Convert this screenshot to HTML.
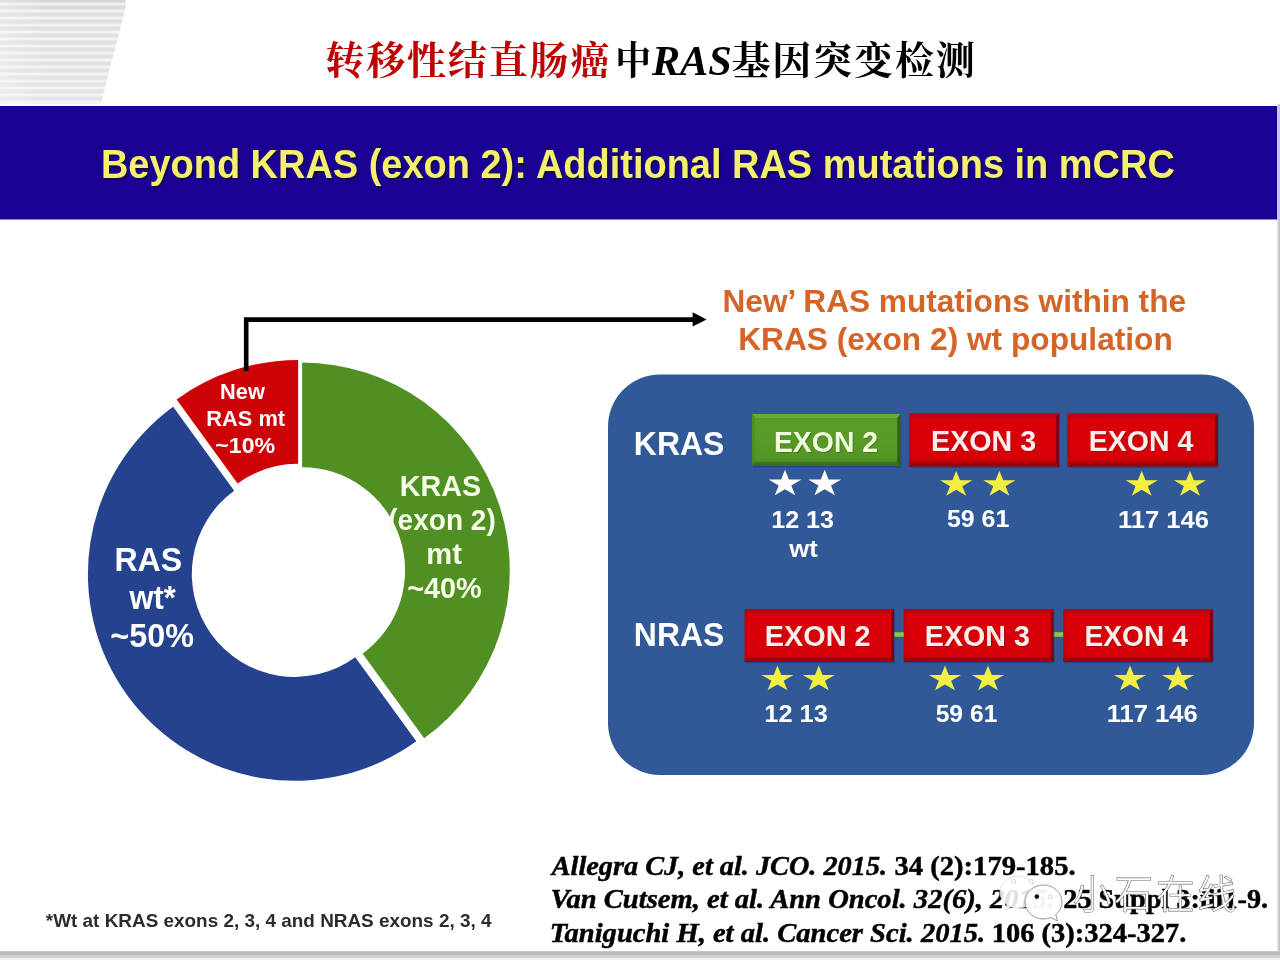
<!DOCTYPE html>
<html lang="zh">
<head>
<meta charset="utf-8">
<title>转移性结直肠癌中RAS基因突变检测</title>
<style>
  html, body { margin: 0; padding: 0; background: #ffffff; }
  body { width: 1280px; height: 960px; overflow: hidden; position: relative; }
  svg { position: absolute; left: 0; top: 0; display: block; }
  .sans { font-family: "Liberation Sans", sans-serif; font-weight: bold; }
  .serif { font-family: "Liberation Serif", "Noto Serif CJK SC", serif; font-weight: bold; }
  .cjk { font-family: "Liberation Serif", "Noto Serif CJK SC", serif; font-weight: 700; }
  .wm { font-family: "Liberation Sans", "Noto Sans CJK SC", sans-serif; font-weight: 300; }
</style>
</head>
<body>
<svg width="1280" height="960" viewBox="0 0 1280 960">
  <defs>
    <linearGradient id="stripeFade" x1="0" y1="0" x2="0" y2="1">
      <stop offset="0" stop-color="#d6d6d6"/>
      <stop offset="0.12" stop-color="#dedede"/>
      <stop offset="1" stop-color="#e4e4ea"/>
    </linearGradient>
    <linearGradient id="leftFade" x1="0" y1="0" x2="1" y2="0">
      <stop offset="0" stop-color="#ffffff" stop-opacity="0.28"/>
      <stop offset="1" stop-color="#ffffff" stop-opacity="0"/>
    </linearGradient>
    <pattern id="stripes" x="0" y="2.5" width="8" height="7" patternUnits="userSpaceOnUse">
      <rect x="0" y="0" width="8" height="3" fill="#ffffff" fill-opacity="0.6"/>
    </pattern>
    <linearGradient id="shadowB" x1="0" y1="0" x2="0" y2="1">
      <stop offset="0" stop-color="#e6e6e6"/>
      <stop offset="0.08" stop-color="#bababa"/>
      <stop offset="0.42" stop-color="#bebebe"/>
      <stop offset="0.52" stop-color="#cecece"/>
      <stop offset="0.72" stop-color="#d4d4d4"/>
      <stop offset="0.8" stop-color="#efefef"/>
      <stop offset="1" stop-color="#f5f5f5"/>
    </linearGradient>
    <linearGradient id="shadowR" x1="0" y1="0" x2="1" y2="0">
      <stop offset="0" stop-color="#ffffff"/>
      <stop offset="0.5" stop-color="#d4d4d4"/>
      <stop offset="1" stop-color="#bdbdbd"/>
    </linearGradient>
    <linearGradient id="redBox" x1="0" y1="0" x2="0" y2="1">
      <stop offset="0" stop-color="#c40008"/>
      <stop offset="0.12" stop-color="#da0008"/>
      <stop offset="0.85" stop-color="#d60008"/>
      <stop offset="1" stop-color="#a80008"/>
    </linearGradient>
    <linearGradient id="greenBox" x1="0" y1="0" x2="0" y2="1">
      <stop offset="0" stop-color="#4a8a22"/>
      <stop offset="0.12" stop-color="#5a9e28"/>
      <stop offset="0.85" stop-color="#549624"/>
      <stop offset="1" stop-color="#3c741c"/>
    </linearGradient>
    <filter id="soft" x="-5%" y="-5%" width="110%" height="110%">
      <feGaussianBlur stdDeviation="0.6"/>
    </filter>
  </defs>

  <!-- page background -->
  <rect x="0" y="0" width="1280" height="960" fill="#ffffff"/>

  <!-- top-left grey striped decoration -->
  <g id="deco">
    <polygon points="0,0 125.5,0 125.5,8 101,103.5 0,103.5" fill="url(#stripeFade)"/>
    <polygon points="0,0 125.5,0 125.5,8 101,103.5 0,103.5" fill="url(#stripes)"/>
    <rect x="0" y="0" width="45" height="103.5" fill="url(#leftFade)"/>
  </g>

  <!-- slide drop shadows -->
  <rect x="1276.5" y="104" width="3.5" height="848" fill="url(#shadowR)"/>
  <rect x="0" y="951" width="1280" height="9" fill="url(#shadowB)"/>

  <!-- title -->
  <g id="title">
    <text x="325.4" y="74.2" class="cjk" font-size="39" fill="#c00000" textLength="284" lengthAdjust="spacing">转移性结直肠癌</text>
    <text x="615.2" y="74.2" class="cjk" font-size="39" fill="#000000" textLength="35.8" lengthAdjust="spacingAndGlyphs">中</text>
    <text x="651.9" y="74.9" class="serif" font-size="42.2" font-style="italic" fill="#000000">RAS</text>
    <text x="731.4" y="74.2" class="cjk" font-size="39" fill="#000000" textLength="243.4" lengthAdjust="spacing">基因突变检测</text>
  </g>

  <!-- banner -->
  <g id="banner">
    <rect x="0" y="106" width="1277" height="113.5" fill="#1a0093"/>
    <rect x="1277" y="106" width="3" height="115" fill="#c9c5f0"/>
    <text x="102.5" y="179.7" class="sans" font-size="40" fill="#120c40" textLength="1073.92" lengthAdjust="spacingAndGlyphs" fill-opacity="0.9">Beyond KRAS (exon 2): Additional RAS mutations in mCRC</text>
    <text x="100.9" y="178.1" class="sans" font-size="40" fill="#f5ef6e" textLength="1073.92" lengthAdjust="spacingAndGlyphs">Beyond KRAS (exon 2): Additional RAS mutations in mCRC</text>
  </g>

  <!-- donut chart -->
  <g id="donut">
    <path d="M302.1,362.6 A207.7,207.7 0 0 1 424.18,738.33 L362.64,653.63 A103,103 0 0 0 302.1,467.3 Z" fill="#508f21"/>
    <path d="M416.26,741.31 A206.8,206.8 0 0 1 173.15,406.7 L234.17,490.68 A103,103 0 0 0 355.25,657.34 Z" fill="#25428e"/>
    <path d="M176.61,399.49 A206.8,206.8 0 0 1 298.16,360 L298.16,463.8 A103,103 0 0 0 237.62,483.47 Z" fill="#cd0308"/>
    <text x="220.09" y="398.8" class="sans" font-size="22.7" fill="#ffffff" textLength="44.8" lengthAdjust="spacingAndGlyphs">New</text>
    <text x="206.29" y="426.4" class="sans" font-size="22.7" fill="#ffffff" textLength="78.77" lengthAdjust="spacingAndGlyphs">RAS mt</text>
    <text x="215.28" y="453.2" class="sans" font-size="22.7" fill="#ffffff" textLength="59.91" lengthAdjust="spacingAndGlyphs">~10%</text>
    <text x="114.43" y="571" class="sans" font-size="32.6" fill="#ffffff" textLength="67.84" lengthAdjust="spacingAndGlyphs">RAS</text>
    <text x="129.48" y="609" class="sans" font-size="32.6" fill="#ffffff" textLength="46.34" lengthAdjust="spacingAndGlyphs">wt*</text>
    <text x="110.36" y="647.3" class="sans" font-size="32.6" fill="#ffffff" textLength="83.56" lengthAdjust="spacingAndGlyphs">~50%</text>
    <text x="399.69" y="495.5" class="sans" font-size="28.6" fill="#f5fce8" textLength="81.41" lengthAdjust="spacingAndGlyphs">KRAS</text>
    <text x="388.29" y="530.4" class="sans" font-size="28.6" fill="#f5fce8" textLength="107.51" lengthAdjust="spacingAndGlyphs">(exon 2)</text>
    <text x="426.27" y="564.2" class="sans" font-size="28.6" fill="#f5fce8" textLength="35.56" lengthAdjust="spacingAndGlyphs">mt</text>
    <text x="407.22" y="598.3" class="sans" font-size="28.6" fill="#f5fce8" textLength="74.53" lengthAdjust="spacingAndGlyphs">~40%</text>
  </g>

  <!-- connector arrow -->
  <g id="arrow">
    <polyline points="246.2,371 246.2,319.6 694,319.6" fill="none" stroke="#000000" stroke-width="4.6" stroke-linejoin="miter"/>
    <polygon points="692.6,312.2 706.6,319.4 692.6,326.6" fill="#000000"/>
  </g>

  <!-- right heading -->
  <g id="heading">
    <text x="722.53" y="312.2" class="sans" font-size="31.4" fill="#d46428" textLength="463.5" lengthAdjust="spacingAndGlyphs">New’ RAS mutations within the</text>
    <text x="738.23" y="350.4" class="sans" font-size="31.4" fill="#d46428" textLength="434.57" lengthAdjust="spacingAndGlyphs">KRAS (exon 2) wt population</text>
  </g>

  <!-- panel -->
  <g id="panel">
    <rect x="608" y="374.6" width="646" height="400.4" rx="52" ry="52" fill="#315897"/>
    <rect x="890" y="632.2" width="176" height="4.6" fill="#8cc63f"/>
    <rect x="753" y="415.5" width="148.3" height="52" fill="#1d2f5e" fill-opacity="0.35" filter="url(#soft)"/>
    <rect x="752" y="414" width="148.3" height="52" fill="url(#greenBox)"/>
    <polygon points="752,414 900.3,414 897.3,418 755,418" fill="#7cc040" fill-opacity="0.6"/>
    <polygon points="752,466 900.3,466 897.3,462 755,462" fill="#356a1a" fill-opacity="0.6"/>
    <polygon points="900.3,414 900.3,466 897.3,462 897.3,418" fill="#234f14" fill-opacity="0.75"/>
    <polygon points="752,414 752,466 755,462 755,418" fill="#46861f" fill-opacity="0.5"/>
    <rect x="910" y="414.9" width="150" height="53" fill="#1d2f5e" fill-opacity="0.35" filter="url(#soft)"/>
    <rect x="909" y="413.4" width="150" height="53" fill="url(#redBox)"/>
    <polygon points="909,413.4 1059,413.4 1056,417.4 912,417.4" fill="#a8001a" fill-opacity="0.45"/>
    <polygon points="909,466.4 1059,466.4 1056,462.4 912,462.4" fill="#8f0006" fill-opacity="0.6"/>
    <polygon points="1059,413.4 1059,466.4 1056,462.4 1056,417.4" fill="#5c0014" fill-opacity="0.75"/>
    <polygon points="909,413.4 909,466.4 912,462.4 912,417.4" fill="#b00010" fill-opacity="0.5"/>
    <rect x="1068.3" y="414.9" width="150.5" height="53" fill="#1d2f5e" fill-opacity="0.35" filter="url(#soft)"/>
    <rect x="1067.3" y="413.4" width="150.5" height="53" fill="url(#redBox)"/>
    <polygon points="1067.3,413.4 1217.8,413.4 1214.8,417.4 1070.3,417.4" fill="#a8001a" fill-opacity="0.45"/>
    <polygon points="1067.3,466.4 1217.8,466.4 1214.8,462.4 1070.3,462.4" fill="#8f0006" fill-opacity="0.6"/>
    <polygon points="1217.8,413.4 1217.8,466.4 1214.8,462.4 1214.8,417.4" fill="#5c0014" fill-opacity="0.75"/>
    <polygon points="1067.3,413.4 1067.3,466.4 1070.3,462.4 1070.3,417.4" fill="#b00010" fill-opacity="0.5"/>
    <rect x="745.7" y="610.5" width="149.3" height="53" fill="#1d2f5e" fill-opacity="0.35" filter="url(#soft)"/>
    <rect x="744.7" y="609" width="149.3" height="53" fill="url(#redBox)"/>
    <polygon points="744.7,609 894,609 891,613 747.7,613" fill="#a8001a" fill-opacity="0.45"/>
    <polygon points="744.7,662 894,662 891,658 747.7,658" fill="#8f0006" fill-opacity="0.6"/>
    <polygon points="894,609 894,662 891,658 891,613" fill="#5c0014" fill-opacity="0.75"/>
    <polygon points="744.7,609 744.7,662 747.7,658 747.7,613" fill="#b00010" fill-opacity="0.5"/>
    <rect x="904.8" y="610.5" width="149.8" height="53" fill="#1d2f5e" fill-opacity="0.35" filter="url(#soft)"/>
    <rect x="903.8" y="609" width="149.8" height="53" fill="url(#redBox)"/>
    <polygon points="903.8,609 1053.6,609 1050.6,613 906.8,613" fill="#a8001a" fill-opacity="0.45"/>
    <polygon points="903.8,662 1053.6,662 1050.6,658 906.8,658" fill="#8f0006" fill-opacity="0.6"/>
    <polygon points="1053.6,609 1053.6,662 1050.6,658 1050.6,613" fill="#5c0014" fill-opacity="0.75"/>
    <polygon points="903.8,609 903.8,662 906.8,658 906.8,613" fill="#b00010" fill-opacity="0.5"/>
    <rect x="1064.3" y="610.5" width="149.5" height="53" fill="#1d2f5e" fill-opacity="0.35" filter="url(#soft)"/>
    <rect x="1063.3" y="609" width="149.5" height="53" fill="url(#redBox)"/>
    <polygon points="1063.3,609 1212.8,609 1209.8,613 1066.3,613" fill="#a8001a" fill-opacity="0.45"/>
    <polygon points="1063.3,662 1212.8,662 1209.8,658 1066.3,658" fill="#8f0006" fill-opacity="0.6"/>
    <polygon points="1212.8,609 1212.8,662 1209.8,658 1209.8,613" fill="#5c0014" fill-opacity="0.75"/>
    <polygon points="1063.3,609 1063.3,662 1066.3,658 1066.3,613" fill="#b00010" fill-opacity="0.5"/>
    <text x="774.71" y="452.8" class="sans" font-size="28.6" fill="#1c3a0a" textLength="104.2" lengthAdjust="spacingAndGlyphs" fill-opacity="0.35">EXON 2</text>
    <text x="773.91" y="451.8" class="sans" font-size="28.6" fill="#f1fbdd" textLength="104.2" lengthAdjust="spacingAndGlyphs">EXON 2</text>
    <text x="931.79" y="452.2" class="sans" font-size="28.6" fill="#4a0008" textLength="105.32" lengthAdjust="spacingAndGlyphs" fill-opacity="0.35">EXON 3</text>
    <text x="930.99" y="451.2" class="sans" font-size="28.6" fill="#fdeeee" textLength="105.32" lengthAdjust="spacingAndGlyphs">EXON 3</text>
    <text x="1089.61" y="452.2" class="sans" font-size="28.6" fill="#4a0008" textLength="104.62" lengthAdjust="spacingAndGlyphs" fill-opacity="0.35">EXON 4</text>
    <text x="1088.81" y="451.2" class="sans" font-size="28.6" fill="#fdeeee" textLength="104.62" lengthAdjust="spacingAndGlyphs">EXON 4</text>
    <text x="765.58" y="646.5" class="sans" font-size="28.6" fill="#4a0008" textLength="105.85" lengthAdjust="spacingAndGlyphs" fill-opacity="0.35">EXON 2</text>
    <text x="764.78" y="645.5" class="sans" font-size="28.6" fill="#fdeeee" textLength="105.85" lengthAdjust="spacingAndGlyphs">EXON 2</text>
    <text x="925.59" y="646.5" class="sans" font-size="28.6" fill="#4a0008" textLength="105.22" lengthAdjust="spacingAndGlyphs" fill-opacity="0.35">EXON 3</text>
    <text x="924.79" y="645.5" class="sans" font-size="28.6" fill="#fdeeee" textLength="105.22" lengthAdjust="spacingAndGlyphs">EXON 3</text>
    <text x="1085.33" y="646.5" class="sans" font-size="28.6" fill="#4a0008" textLength="103.4" lengthAdjust="spacingAndGlyphs" fill-opacity="0.35">EXON 4</text>
    <text x="1084.53" y="645.5" class="sans" font-size="28.6" fill="#fdeeee" textLength="103.4" lengthAdjust="spacingAndGlyphs">EXON 4</text>
    <text x="633.86" y="454.8" class="sans" font-size="33.3" fill="#ffffff" textLength="90.55" lengthAdjust="spacingAndGlyphs">KRAS</text>
    <text x="633.86" y="645.8" class="sans" font-size="33.3" fill="#ffffff" textLength="90.55" lengthAdjust="spacingAndGlyphs">NRAS</text>
    <polygon points="0,-14.15 3.9,-4.37 16.5,-4.37 6.3,1.67 10.2,11.45 0,5.41 -10.2,11.45 -6.3,1.67 -16.5,-4.37 -3.9,-4.37" transform="translate(785,483.8)" fill="#ffffff"/>
    <polygon points="0,-14.15 3.9,-4.37 16.5,-4.37 6.3,1.67 10.2,11.45 0,5.41 -10.2,11.45 -6.3,1.67 -16.5,-4.37 -3.9,-4.37" transform="translate(824.7,483.8)" fill="#ffffff"/>
    <polygon points="0,-14.15 3.9,-4.37 16.5,-4.37 6.3,1.67 10.2,11.45 0,5.41 -10.2,11.45 -6.3,1.67 -16.5,-4.37 -3.9,-4.37" transform="translate(956.2,484.6) scale(0.975)" fill="#f3ef42"/>
    <polygon points="0,-14.15 3.9,-4.37 16.5,-4.37 6.3,1.67 10.2,11.45 0,5.41 -10.2,11.45 -6.3,1.67 -16.5,-4.37 -3.9,-4.37" transform="translate(999.4,484.6) scale(0.975)" fill="#f3ef42"/>
    <polygon points="0,-14.15 3.9,-4.37 16.5,-4.37 6.3,1.67 10.2,11.45 0,5.41 -10.2,11.45 -6.3,1.67 -16.5,-4.37 -3.9,-4.37" transform="translate(1141.7,484.6) scale(0.975)" fill="#f3ef42"/>
    <polygon points="0,-14.15 3.9,-4.37 16.5,-4.37 6.3,1.67 10.2,11.45 0,5.41 -10.2,11.45 -6.3,1.67 -16.5,-4.37 -3.9,-4.37" transform="translate(1190,484.6) scale(0.975)" fill="#f3ef42"/>
    <polygon points="0,-14.15 3.9,-4.37 16.5,-4.37 6.3,1.67 10.2,11.45 0,5.41 -10.2,11.45 -6.3,1.67 -16.5,-4.37 -3.9,-4.37" transform="translate(777.5,679.2) scale(0.975)" fill="#f3ef42"/>
    <polygon points="0,-14.15 3.9,-4.37 16.5,-4.37 6.3,1.67 10.2,11.45 0,5.41 -10.2,11.45 -6.3,1.67 -16.5,-4.37 -3.9,-4.37" transform="translate(818.8,679.2) scale(0.975)" fill="#f3ef42"/>
    <polygon points="0,-14.15 3.9,-4.37 16.5,-4.37 6.3,1.67 10.2,11.45 0,5.41 -10.2,11.45 -6.3,1.67 -16.5,-4.37 -3.9,-4.37" transform="translate(945,679.2) scale(0.975)" fill="#f3ef42"/>
    <polygon points="0,-14.15 3.9,-4.37 16.5,-4.37 6.3,1.67 10.2,11.45 0,5.41 -10.2,11.45 -6.3,1.67 -16.5,-4.37 -3.9,-4.37" transform="translate(988,679.2) scale(0.975)" fill="#f3ef42"/>
    <polygon points="0,-14.15 3.9,-4.37 16.5,-4.37 6.3,1.67 10.2,11.45 0,5.41 -10.2,11.45 -6.3,1.67 -16.5,-4.37 -3.9,-4.37" transform="translate(1130,679.2) scale(0.975)" fill="#f3ef42"/>
    <polygon points="0,-14.15 3.9,-4.37 16.5,-4.37 6.3,1.67 10.2,11.45 0,5.41 -10.2,11.45 -6.3,1.67 -16.5,-4.37 -3.9,-4.37" transform="translate(1178,679.2) scale(0.975)" fill="#f3ef42"/>
    <text x="771.2" y="528.1" class="sans" font-size="24.6" fill="#ffffff" textLength="62.83" lengthAdjust="spacingAndGlyphs">12 13</text>
    <text x="789.37" y="557" class="sans" font-size="24.6" fill="#ffffff" textLength="28.47" lengthAdjust="spacingAndGlyphs">wt</text>
    <text x="946.95" y="527" class="sans" font-size="24.6" fill="#ffffff" textLength="62.44" lengthAdjust="spacingAndGlyphs">59 61</text>
    <text x="1117.97" y="528" class="sans" font-size="24.6" fill="#ffffff" textLength="91.07" lengthAdjust="spacingAndGlyphs">117 146</text>
    <text x="764.39" y="722" class="sans" font-size="24.6" fill="#ffffff" textLength="63.35" lengthAdjust="spacingAndGlyphs">12 13</text>
    <text x="935.66" y="722" class="sans" font-size="24.6" fill="#ffffff" textLength="61.72" lengthAdjust="spacingAndGlyphs">59 61</text>
    <text x="1106.77" y="722" class="sans" font-size="24.6" fill="#ffffff" textLength="90.97" lengthAdjust="spacingAndGlyphs">117 146</text>
  </g>

  <!-- footnote -->
  <g id="foot">
    <text x="45.83" y="927" class="sans" font-size="19" fill="#2c2c2c" textLength="445.63" lengthAdjust="spacingAndGlyphs">*Wt at KRAS exons 2, 3, 4 and NRAS exons 2, 3, 4</text>
  </g>

  <!-- references -->
  <g id="refs">
    <text x="551.75" y="874.6" class="serif" font-size="27" font-style="italic" fill="#000000" textLength="335.34" lengthAdjust="spacingAndGlyphs" stroke="#000000" stroke-width="0.45">Allegra CJ, et al. JCO. 2015.</text>
    <text x="894.52" y="874.6" class="serif" font-size="27" fill="#000000" textLength="181.06" lengthAdjust="spacingAndGlyphs" stroke="#000000" stroke-width="0.45">34 (2):179-185.</text>
    <text x="550.58" y="908.3" class="serif" font-size="27" font-style="italic" fill="#000000" textLength="503.74" lengthAdjust="spacingAndGlyphs" stroke="#000000" stroke-width="0.45">Van Cutsem, et al. Ann Oncol. 32(6), 2015.</text>
    <text x="1063.27" y="908.3" class="serif" font-size="27" fill="#000000" textLength="204.86" lengthAdjust="spacingAndGlyphs" stroke="#000000" stroke-width="0.45">25 Suppl 3:iii1-9.</text>
    <text x="549.65" y="942" class="serif" font-size="27" font-style="italic" fill="#000000" textLength="435.54" lengthAdjust="spacingAndGlyphs" stroke="#000000" stroke-width="0.45">Taniguchi H, et al. Cancer Sci. 2015.</text>
    <text x="991.8" y="942" class="serif" font-size="27" fill="#000000" textLength="194.45" lengthAdjust="spacingAndGlyphs" stroke="#000000" stroke-width="0.45">106 (3):324-327.</text>
  </g>

  <!-- watermark -->
  <g id="wm">
    <path d="M1018,876 C1028,876 1036,883 1036,892 C1036,901 1028,908 1018,908 C1015.5,908 1013,907.5 1011,906.8 L1005.5,910.5 L1007,904.5 C1002.8,901.6 1000,897 1000,892 C1000,883 1008,876 1018,876 Z" fill="#ffffff" fill-opacity="0.88" stroke="#dcdcdc" stroke-width="0.8"/>
    <path d="M1043.5,885 C1053.7,885 1062,892.6 1062,902 C1062,907 1059.6,911.5 1055.8,914.6 L1057.5,921 L1051,917.6 C1048.7,918.5 1046.2,919 1043.5,919 C1033.3,919 1025,911.4 1025,902 C1025,892.6 1033.3,885 1043.5,885 Z" fill="#ffffff" fill-opacity="0.95" stroke="#8a8a8a" stroke-width="0.9"/>
    <circle cx="1013.6" cy="881.5" r="2" fill="#ffffff" stroke="#cfcfcf" stroke-width="0.9"/>
    <circle cx="1031.4" cy="881.5" r="2" fill="#ffffff" stroke="#cfcfcf" stroke-width="0.9"/>
    <circle cx="1036.8" cy="896.6" r="2.3" fill="#111111"/>
    <circle cx="1050.4" cy="896.8" r="2" fill="#ffffff" stroke="#cccccc" stroke-width="0.9"/>
    <text x="1073" y="907.5" class="wm" font-size="38.5" fill="#ffffff" stroke="#6a6a6a" stroke-width="1.2" paint-order="stroke" textLength="163" lengthAdjust="spacing">小石在线</text>
  </g>
</svg>
</body>
</html>
